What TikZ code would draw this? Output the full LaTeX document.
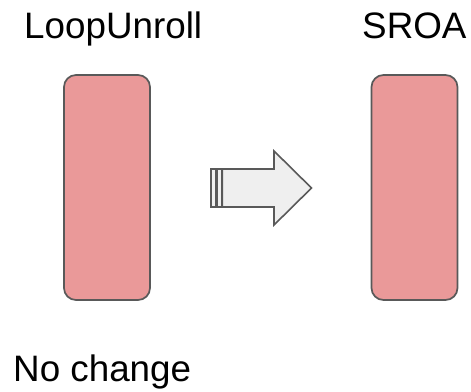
\documentclass[tikz,border=0pt]{standalone}
\usepackage{fontspec}
\setmainfont{Liberation Sans}
\definecolor{passfill}{HTML}{EA9999}
\definecolor{edgegray}{HTML}{595959}
\definecolor{arrowfill}{HTML}{EFEFEF}
\begin{document}
\begin{tikzpicture}[x=1pt,y=-1pt,
  passbox/.style={draw=edgegray,line width=1.7pt,fill=passfill,rounded corners=12pt,
    minimum width=86pt,minimum height=225pt,inner sep=0pt},
  title/.style={font=\fontsize{36.8}{40}\selectfont,anchor=base west,inner sep=0pt},
  bigarrow/.style={draw=edgegray,line width=1.6pt,fill=arrowfill,line join=miter}]
  \useasboundingbox (0,0) rectangle (471,391);
  % pass boxes
  \node[passbox] (loop) at (107,187.5) {};
  \node[passbox] (sroa) at (414.5,187.5) {};
  % labels
  \node[title] (loopname) at (24,38.3) {LoopUnroll};
  \node[title] (sroaname) at (362,38.3) {SROA};
  \node[title] (result) at (13,381.5) {No change};
  % striped block arrow between the passes
  \draw[bigarrow] (211,169) rectangle (215.8,207);
  \draw[bigarrow] (216.8,169) rectangle (221.4,207);
  \draw[bigarrow] (222.4,169) -- (274,169) -- (274,151) -- (311.5,188)
    -- (274,225) -- (274,207) -- (222.4,207) -- cycle;
\end{tikzpicture}
\end{document}
